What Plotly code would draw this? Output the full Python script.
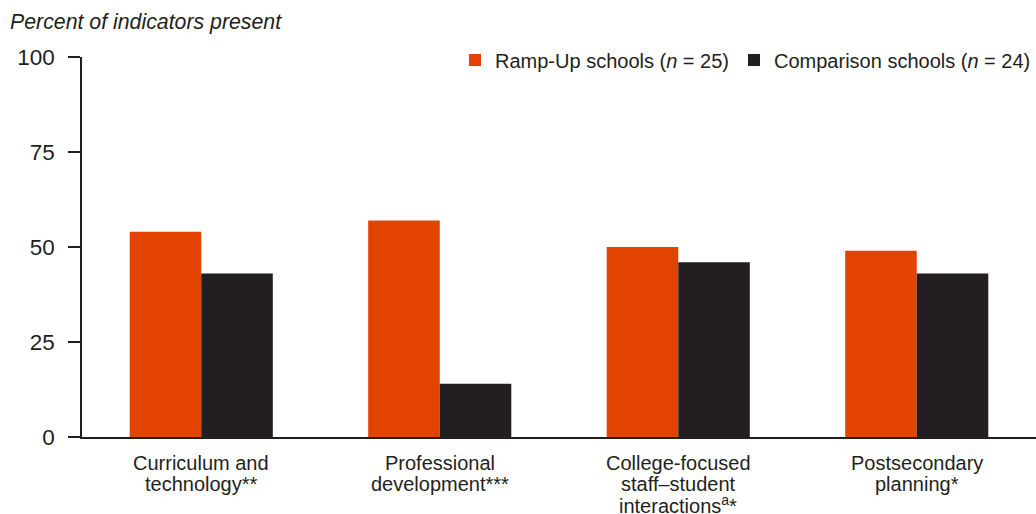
import plotly.graph_objects as go

categories = [
    "Curriculum and<br>technology**",
    "Professional<br>development***",
    "College-focused<br>staff\u2013student<br>interactions<sup>a</sup>*",
    "Postsecondary<br>planning*",
]
ramp_up = [54, 57, 50, 49]
comparison = [43, 14, 46, 43]
y_ticks = [0, 25, 50, 75, 100]

ORANGE = "#E24300"
DARK = "#231F20"
FONT = "Liberation Sans, Arial, sans-serif"

W, H = 1036, 514

fig = go.Figure()
fig.add_trace(go.Bar(x=categories, y=ramp_up, name="Ramp-Up schools (<i>n</i> = 25)",
                     marker=dict(color=ORANGE, line=dict(width=0))))
fig.add_trace(go.Bar(x=categories, y=comparison, name="Comparison schools (<i>n</i> = 24)",
                     marker=dict(color=DARK, line=dict(width=0))))

# category labels drawn line by line for tight line spacing
for cat in categories:
    for i, line in enumerate(cat.split("<br>")):
        fig.add_annotation(x=cat, xref="x", y=0, yref="paper", text=line,
                           showarrow=False, xanchor="center", yanchor="middle",
                           yshift=-26 - 20.5 * i,
                           font=dict(size=20, color=DARK, family=FONT))

fig.update_layout(
    width=W, height=H,
    margin=dict(l=82, r=0, t=57, b=77, autoexpand=False),
    paper_bgcolor="white", plot_bgcolor="white",
    font=dict(family=FONT, size=20, color=DARK),
    barmode="group", bargap=0.4, bargroupgap=0,
    showlegend=True,
    legend=dict(orientation="h", x=1, xanchor="right", y=0.992, yanchor="middle",
                font=dict(size=20, color=DARK), bgcolor="rgba(0,0,0,0)",
                traceorder="normal"),
    title=dict(text="<i>Percent of indicators present</i>", xref="container", x=10 / W,
               xanchor="left", yref="container", y=1 - 22 / H, yanchor="middle",
               font=dict(size=21.3, color=DARK, family=FONT)),
    xaxis=dict(range=[-0.5, 3.5], showline=True, linecolor=DARK, linewidth=1.5,
               ticks="", showgrid=False, showticklabels=False),
    yaxis=dict(range=[0, 100], tickvals=y_ticks, showline=True, linecolor=DARK,
               linewidth=1.5, ticks="outside", ticklen=12, tickcolor=DARK, tickwidth=1.5,
               ticklabelstandoff=9,
               showgrid=False, zeroline=False, tickfont=dict(size=22.5, color=DARK)),
)

fig.write_html(
    "out.html",
    config={"displayModeBar": False},
    post_script="document.body.style.margin='0';document.body.style.overflow='hidden';",
)
